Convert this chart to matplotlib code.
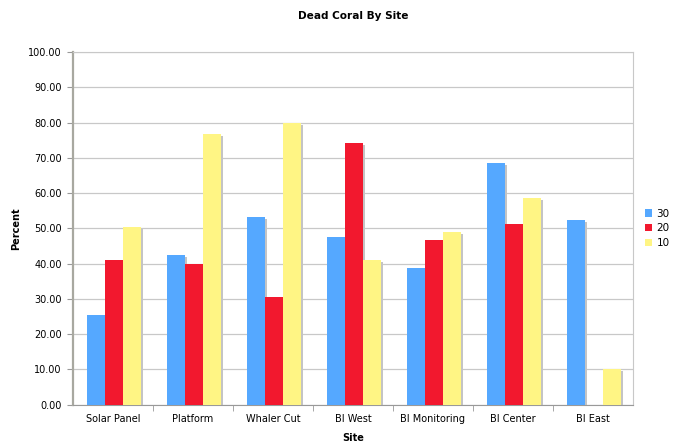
import numpy as np
import matplotlib.pyplot as plt
import matplotlib.transforms as mtransforms

sites = ["Solar Panel", "Platform", "Whaler Cut", "BI West",
         "BI Monitoring", "BI Center", "BI East"]
series_names = ["30", "20", "10"]
pct_30 = [25.3, 42.3, 53.3, 47.5, 38.6, 68.5, 52.4]
pct_20 = [40.9, 40.0, 30.6, 74.2, 46.7, 51.1, 0.0]
pct_10 = [50.5, 76.8, 80.0, 40.9, 48.9, 58.7, 10.0]

colors = ["#55a8ff", "#f2182e", "#fff584"]

fig = plt.figure(figsize=(6.78, 4.45), dpi=100)
ax = fig.add_axes([0.1075, 0.091, 0.826, 0.792])

x = np.arange(len(sites))
w = 0.225
# little drop shadow behind each bar
shadow = mtransforms.offset_copy(ax.transData, fig=fig, x=2.5, y=-2, units="dots")

for i, (vals, c, name) in enumerate(zip([pct_30, pct_20, pct_10], colors, series_names)):
    pos = x + (i - 1) * w + 0.01
    ax.bar(pos, vals, w, color="#c4c4c4", transform=shadow, zorder=2)
    ax.bar(pos, vals, w, color=c, label=name, zorder=3)

ax.set_xlim(-0.5, len(sites) - 0.5)
ax.set_ylim(0, 100)
ax.set_yticks(np.arange(0, 101, 10))
ax.set_yticklabels([f"{v:.2f}" for v in np.arange(0, 101, 10)])
ax.set_xticks(x)
ax.set_xticklabels(sites)
ax.set_xticks(np.arange(0.5, len(sites) - 1, 1), minor=True)
ax.tick_params(axis="x", which="major", length=0, pad=7, labelsize=7)
ax.tick_params(axis="x", which="minor", length=4, color="#999999")
ax.tick_params(axis="y", length=4, color="#999999", labelsize=7, pad=4)

ax.yaxis.grid(True, color="#c8c8c8", linewidth=0.9, zorder=0)
ax.set_axisbelow(True)
for s in ["top", "right"]:
    ax.spines[s].set_color("#c8c8c8")
ax.spines["left"].set_color("#a8a8a0")
ax.spines["left"].set_linewidth(1.6)
ax.spines["bottom"].set_color("#999999")

ax.set_title("Dead Coral By Site", fontsize=7.6, fontweight="bold", pad=24)
ax.set_xlabel("Site", fontsize=7, fontweight="bold", labelpad=6)
ax.set_ylabel("Percent", fontsize=7, fontweight="bold")
ax.yaxis.set_label_coords(-0.092, 0.5)

ax.legend(loc="center left", bbox_to_anchor=(1.005, 0.5), frameon=False,
          fontsize=7.5, handlelength=0.7, handleheight=0.7, handletextpad=0.4,
          labelspacing=0.45)

fig.savefig("out.png", dpi=100)
